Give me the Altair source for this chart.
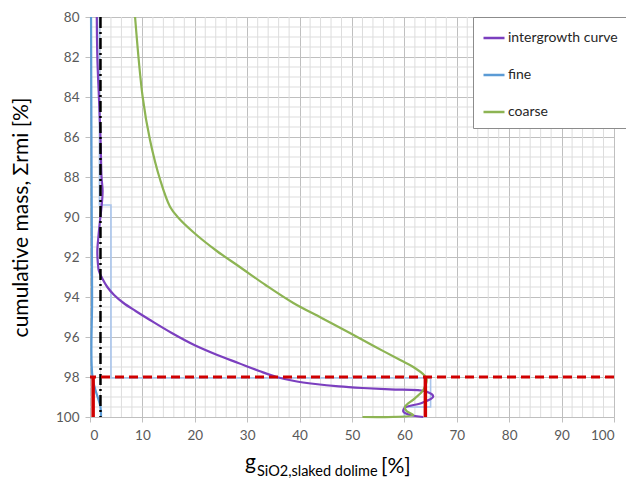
import altair as alt
import pandas as pd

# ---- data ----
series_names = ["intergrowth curve", "fine", "coarse"]
series_colors = ["#7B3FBF", "#5B9BD5", "#8DB453"]

ig_x = [1.3, 1.4, 1.7, 2.0, 2.2, 2.4, 2.2, 1.9, 1.6, 1.4, 1.5, 1.7, 2.4, 3.3, 4.6, 6.4, 8.7, 11.45,
        15.6, 19.9, 24.3, 28.3, 32.3, 35.6, 39.0, 43.0, 47.5, 52.0, 57.3, 64.2, 65.5, 63.3, 60.1, 59.8,
        61.1, 63.6]
ig_y = [80, 82, 84, 86, 88, 88.7, 89.5, 90.2, 91.0, 91.7, 92.3, 92.7, 93.1, 93.5, 93.9, 94.3, 94.7, 95.15,
        95.8, 96.4, 96.9, 97.3, 97.7, 98.0, 98.2, 98.35, 98.47, 98.55, 98.62, 98.73, 98.98, 99.3, 99.53,
        99.73, 99.9, 100]

fine_x = [0.2, 0.3, 0.4, 0.5, 2.0, 2.1]
fine_y = [80, 88, 94, 98.05, 99.5, 100]

coarse_x = [8.6, 10.05, 11.45, 13.4, 15.3, 16.9, 19.9, 24.2, 28.6, 33.5, 38.8, 44.2, 49.6, 54.5,
            59.2, 61.7, 64.2, 63.6, 62.0, 60.1, 60.4, 61.7, 52.0]
coarse_y = [80, 84, 86.15, 88.15, 89.5, 90.05, 90.8, 91.7, 92.5, 93.4, 94.3, 95.05, 95.8, 96.5,
            97.15, 97.5, 98.07, 98.65, 99.07, 99.5, 99.7, 99.9, 100]

step_x = [1.8, 1.8, 4.0, 4.0, 65.0, 65.0, 60.0, 60.0]
step_y = [80, 89.4, 89.4, 98.05, 98.05, 99.5, 99.5, 100]

dashdot_x = [2.0]
red_h_y = [98]
red_v_x = [0.6, 64.0]
red_v_y1 = [98, 98]
red_v_y2 = [100, 100]

x_ticks = [0, 10, 20, 30, 40, 50, 60, 70, 80, 90, 100]
y_ticks = [80, 82, 84, 86, 88, 90, 92, 94, 96, 98, 100]
x_minor = [v for v in range(0, 101, 2) if v % 10 != 0]
y_minor = [80 + 0.5 * k for k in range(41) if k % 4 != 0]

# ---- tables ----
rows = []
for name, xs_, ys_ in zip(series_names, [ig_x, fine_x, coarse_x], [ig_y, fine_y, coarse_y]):
    for i, (x, y) in enumerate(zip(xs_, ys_)):
        rows.append({"series": name, "x": x, "y": y, "i": i})
df = pd.DataFrame(rows)
df_step = pd.DataFrame({"x": step_x, "y": step_y, "i": list(range(len(step_x)))})

xs = alt.Scale(domain=[0, 100], nice=False, zero=False)
ys = alt.Scale(domain=[80, 100], reverse=True, nice=False, zero=False)

FONT = "Lato"

x_axis = alt.Axis(values=x_ticks, title=None, grid=True, labelOverlap=False)
y_axis = alt.Axis(values=y_ticks, title="cumulative mass, Σrmi [%]", grid=True, labelOverlap=False)


def X(field):
    return alt.X(field, scale=xs, axis=x_axis)


def Y(field):
    return alt.Y(field, scale=ys, axis=y_axis)


minor_x = alt.Chart(pd.DataFrame({"v": x_minor})).mark_rule(color="#DDDDDD", strokeWidth=1).encode(
    x=X("v:Q"))
minor_y = alt.Chart(pd.DataFrame({"v": y_minor})).mark_rule(color="#DDDDDD", strokeWidth=1).encode(
    y=Y("v:Q"))

step = alt.Chart(df_step).mark_line(color="#A9C4EB", strokeWidth=1.6).encode(
    x=X("x:Q"), y=Y("y:Q"), order="i:Q")

lines = alt.Chart(df).mark_line(strokeWidth=2.2, interpolate="catmull-rom").encode(
    x=X("x:Q"),
    y=Y("y:Q"),
    order="i:Q",
    color=alt.Color("series:N",
                    scale=alt.Scale(domain=series_names, range=series_colors),
                    sort=series_names,
                    legend=alt.Legend(orient="none", legendX=383, legendY=0, title=None,
                                      fillColor="white", strokeColor="#8C8C8C", padding=9,
                                      symbolType="stroke", symbolSize=441, symbolStrokeWidth=2.5,
                                      labelFontSize=14, labelFont=FONT, labelColor="#262626",
                                      rowPadding=18, labelOffset=2, labelLimit=200)),
)

dashdot = alt.Chart(pd.DataFrame({"x": dashdot_x})).mark_rule(
    color="black", strokeWidth=2.5, strokeDash=[11, 4, 2, 4]).encode(x=X("x:Q"))

red_h = alt.Chart(pd.DataFrame({"y": red_h_y})).mark_rule(
    color="#D00000", strokeWidth=3.2, strokeDash=[9, 5]).encode(y=Y("y:Q"))

red_v = alt.Chart(pd.DataFrame({"x": red_v_x, "y": red_v_y1, "y2": red_v_y2})).mark_rule(
    color="#D00000", strokeWidth=3.5).encode(
    x=X("x:Q"), y=Y("y:Q"), y2="y2:Q")

one = pd.DataFrame({"a": [0]})
t_g = alt.Chart(one).mark_text(align="left", baseline="alphabetic", fontSize=21, font=FONT,
                               color="black").encode(
    x=alt.value(155), y=alt.value(452), text=alt.value("g"))
t_sub = alt.Chart(one).mark_text(align="left", baseline="alphabetic", fontSize=14.5, font=FONT,
                                 color="black").encode(
    x=alt.value(167), y=alt.value(459), text=alt.value("SiO2,slaked dolime"))
t_pct = alt.Chart(one).mark_text(align="left", baseline="alphabetic", fontSize=21, font=FONT,
                                 color="black").encode(
    x=alt.value(291), y=alt.value(456), text=alt.value("[%]"))

chart = alt.layer(minor_x, minor_y, step, lines, dashdot, red_h, red_v, t_g, t_sub, t_pct).properties(
    width=524, height=400,
    autosize=alt.AutoSizeParams(type="none"),
    padding={"left": 90, "top": 17, "right": 12, "bottom": 65},
).configure_view(stroke=None).configure_axis(
    gridColor="#BFBFBF", gridWidth=1, domainColor="#BFBFBF", tickColor="#BFBFBF", tickSize=5,
    labelFont=FONT, labelFontSize=13.5, labelColor="#595959", labelPadding=6, labelOverlap=False,
    titleFont=FONT, titleFontSize=21, titleFontWeight="normal", titleColor="black", titlePadding=24,
)

chart.save("out.html", embed_options={"renderer": "svg", "actions": False})
